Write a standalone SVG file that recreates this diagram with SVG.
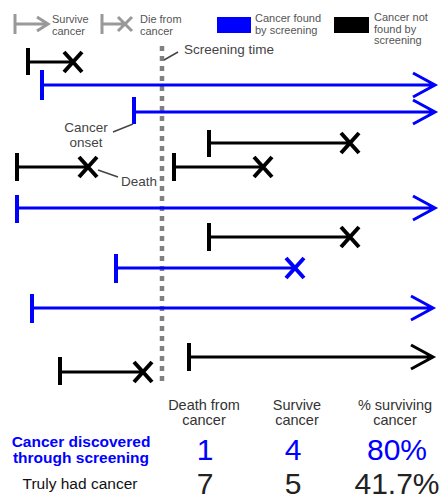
<svg xmlns="http://www.w3.org/2000/svg" width="445" height="500" viewBox="0 0 445 500">
<style>
.k{stroke:#000;fill:none;stroke-width:3}
.b{stroke:#0000ff;fill:none;stroke-width:3}
.g{stroke:#999;fill:none;stroke-width:3}
.bar{stroke-width:4}
.x{stroke-width:4}
.lt{font-family:"Liberation Sans",Arial,sans-serif;font-size:11px;fill:#555}
.an{font-family:"Liberation Sans",Arial,sans-serif;font-size:13.5px;fill:#444}
.hd{font-family:"Liberation Sans",Arial,sans-serif;font-size:14.5px;fill:#333;text-anchor:middle}
.num{font-family:"Liberation Sans",Arial,sans-serif;font-size:30px;text-anchor:middle}
.lead{stroke:#444;stroke-width:1.5;fill:none}
</style>
<rect width="445" height="500" fill="#fff"/>
<g id="legend">
  <g id="legend-survive">
    <path class="g" d="M15 14V34M15 24H48M37 17L48 24L37 31"/>
    <text class="lt" x="52" y="23">Survive</text>
    <text class="lt" x="52" y="35">cancer</text>
  </g>
  <g id="legend-die">
    <path class="g" d="M102 14V34M102 24H125M118 17L132 31M132 17L118 31"/>
    <text class="lt" x="140" y="23">Die from</text>
    <text class="lt" x="140" y="35">cancer</text>
  </g>
  <g id="legend-blue">
    <rect x="217" y="17" width="34" height="16" fill="#0000ff"/>
    <text class="lt" x="255" y="22">Cancer found</text>
    <text class="lt" x="255" y="34">by screening</text>
  </g>
  <g id="legend-black">
    <rect x="334" y="17" width="35" height="16" fill="#000"/>
    <text class="lt" x="374" y="21">Cancer not</text>
    <text class="lt" x="374" y="32.5">found by</text>
    <text class="lt" x="374" y="44">screening</text>
  </g>
</g>
<g id="screening-time">
  <line x1="162" y1="46" x2="162" y2="386" stroke="#808080" stroke-width="4.5" stroke-dasharray="5 5"/>
  <path class="lead" d="M164 60L178 52"/>
  <text class="an" x="184" y="54">Screening time</text>
</g>
<g id="connectors">
  <g id="case1"><path class="k bar" d="M28 48V75"/><path class="k" d="M28 62H73"/><path class="k x" d="M64 52L82 72M82 52L64 72"/></g>
  <g id="case2"><path class="b bar" d="M42 70V100"/><path class="b" d="M42 85H435M413 73L435 85L413 97"/></g>
  <g id="case3"><path class="b bar" d="M134 97V124"/><path class="b" d="M134 112H435M413 100L435 112L413 124"/></g>
  <g id="case4"><path class="k bar" d="M209 130V157"/><path class="k" d="M209 143H350"/><path class="k x" d="M341 133L359 153M359 133L341 153"/></g>
  <g id="case5"><path class="k bar" d="M17 153V181"/><path class="k" d="M17 167H88"/><path class="k x" d="M79 157L97 177M97 157L79 177"/></g>
  <g id="case6"><path class="k bar" d="M174 153V181"/><path class="k" d="M174 167H263"/><path class="k x" d="M254 157L272 177M272 157L254 177"/></g>
  <g id="case7"><path class="b bar" d="M17 195V223"/><path class="b" d="M17 208H435M413 196L435 208L413 220"/></g>
  <g id="case8"><path class="k bar" d="M209 223V251"/><path class="k" d="M209 237H350"/><path class="k x" d="M341 227L359 247M359 227L341 247"/></g>
  <g id="case9"><path class="b bar" d="M116 254V283"/><path class="b" d="M116 268H295"/><path class="b x" d="M286 258L304 278M304 258L286 278"/></g>
  <g id="case10"><path class="b bar" d="M32 294V323"/><path class="b" d="M32 308H433M411 296L433 308L411 320"/></g>
  <g id="case11"><path class="k bar" d="M60 357V385"/><path class="k" d="M60 372H143"/><path class="k x" d="M134 362L152 382M152 362L134 382"/></g>
  <g id="case12"><path class="k bar" d="M189 343V371"/><path class="k" d="M189 357H433M411 345L433 357L411 369"/></g>
</g>
<g id="annotations">
  <text class="an" x="86" y="132" text-anchor="middle">Cancer</text>
  <text class="an" x="86" y="147" text-anchor="middle">onset</text>
  <path class="lead" d="M113 132L133 124"/>
  <path class="lead" d="M98 170L118 177"/>
  <text class="an" x="121" y="186">Death</text>
</g>
<g id="table">
  <text class="hd" x="204" y="410">Death from</text>
  <text class="hd" x="204" y="425">cancer</text>
  <text class="hd" x="297" y="410">Survive</text>
  <text class="hd" x="297" y="425">cancer</text>
  <text class="hd" x="395" y="410">% surviving</text>
  <text class="hd" x="395" y="425">cancer</text>
  <text x="81" y="447" font-family="'Liberation Sans',Arial,sans-serif" font-size="15.5" font-weight="bold" fill="#0000ff" text-anchor="middle">Cancer discovered</text>
  <text x="81" y="463" font-family="'Liberation Sans',Arial,sans-serif" font-size="15.5" font-weight="bold" fill="#0000ff" text-anchor="middle">through screening</text>
  <text class="num" x="205" y="460" fill="#0000ff">1</text>
  <text class="num" x="293" y="460" fill="#0000ff">4</text>
  <text class="num" x="397" y="460" fill="#0000ff">80%</text>
  <text x="80" y="489" font-family="'Liberation Sans',Arial,sans-serif" font-size="15.5" fill="#111" text-anchor="middle">Truly had cancer</text>
  <text class="num" x="205" y="494" fill="#222">7</text>
  <text class="num" x="293" y="494" fill="#222">5</text>
  <text class="num" x="397" y="494" fill="#222">41.7%</text>
</g>
</svg>
